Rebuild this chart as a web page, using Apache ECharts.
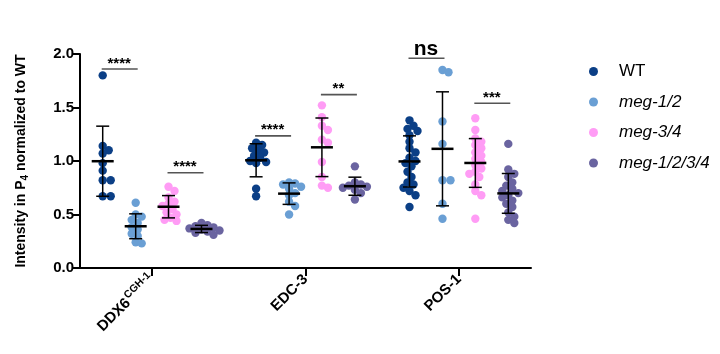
<!DOCTYPE html>
<html><head><meta charset="utf-8">
<script src="https://cdn.jsdelivr.net/npm/echarts@6/dist/echarts.min.js"></script>
<style>html,body{margin:0;padding:0;background:#fff}#c{width:720px;height:354px}</style>
</head><body><div id="c"></div>
<script>
// ---- data ----
const categories = ['DDX6', 'EDC-3', 'POS-1'];
const seriesNames = ['WT', 'meg-1/2', 'meg-3/4', 'meg-1/2/3/4'];
const yTicks = [0, 0.5, 1.0, 1.5, 2.0];

const wt_DDX6   = [1.80, 1.14, 1.10, 1.07, 0.98, 0.91, 0.82, 0.82, 0.67, 0.67];
const wt_EDC3   = [1.17, 1.15, 1.12, 1.10, 1.08, 1.05, 1.03, 1.00, 0.99, 0.98, 0.74, 0.67];
const wt_POS1   = [1.38, 1.33, 1.30, 1.28, 1.24, 1.18, 1.12, 1.08, 1.03, 1.00, 0.98, 0.95, 0.90, 0.85, 0.80, 0.78, 0.75, 0.72, 0.68, 0.57];

const m12_DDX6  = [0.61, 0.50, 0.48, 0.45, 0.42, 0.38, 0.36, 0.32, 0.30, 0.24, 0.23];
const m12_EDC3  = [0.80, 0.79, 0.78, 0.76, 0.74, 0.70, 0.68, 0.62, 0.58, 0.50];
const m12_POS1  = [1.85, 1.83, 1.37, 1.16, 0.82, 0.82, 0.60, 0.46];

const m34_DDX6  = [0.76, 0.72, 0.66, 0.62, 0.60, 0.58, 0.55, 0.52, 0.50, 0.47, 0.45, 0.44];
const m34_EDC3  = [1.52, 1.41, 1.33, 1.29, 1.20, 1.17, 0.99, 0.85, 0.77, 0.75];
const m34_POS1  = [1.40, 1.29, 1.21, 1.18, 1.15, 1.12, 1.08, 1.05, 1.02, 0.99, 0.96, 0.93, 0.90, 0.88, 0.85, 0.78, 0.72, 0.68, 0.46];

const m1234_DDX6 = [0.42, 0.40, 0.39, 0.38, 0.37, 0.36, 0.35, 0.34, 0.33, 0.31];
const m1234_EDC3 = [0.95, 0.80, 0.78, 0.77, 0.76, 0.75, 0.73, 0.70, 0.64];
const m1234_POS1 = [1.16, 0.92, 0.88, 0.85, 0.80, 0.77, 0.74, 0.72, 0.70, 0.68, 0.66, 0.63, 0.60, 0.57, 0.52, 0.48, 0.45, 0.42];

// significance: category index, first series, second series, bar height, label
const sigCat   = [0, 0, 1, 1, 2, 2];
const sigFrom  = [0, 2, 0, 2, 0, 2];
const sigTo    = [1, 3, 1, 3, 1, 3];
const sigY     = [1.86, 0.89, 1.235, 1.62, 1.96, 1.54];
const sigLabel = ['****', '****', '****', '**', 'ns', '***'];

// ---- styling / layout ----
const colors = ['#0b3f86', '#6a9fd4', '#ff9cf5', '#6a64a0'];
const groups = [
  [wt_DDX6, wt_EDC3, wt_POS1],
  [m12_DDX6, m12_EDC3, m12_POS1],
  [m34_DDX6, m34_EDC3, m34_POS1],
  [m1234_DDX6, m1234_EDC3, m1234_POS1]
];
const offsets = [-0.322, -0.107, 0.107, 0.322];
const G = {left: 80, right: 189, top: 54, bottom: 86};
const xMin = -0.47, xMax = 2.47;
const pxX = (720 - G.left - G.right) / (xMax - xMin);
const pxY = (354 - G.top - G.bottom) / 2;
const dotD = 8.4;

function swarm(vals, center) {
  const placed = [];
  const sorted = vals.slice().sort((a, b) => b - a);
  const out = [];
  sorted.forEach(v => {
    const py = v * pxY;
    let chosen = 0;
    for (let k = 0; k < 40; k++) {
      const cand = k === 0 ? 0 : (k % 2 ? 1 : -1) * Math.ceil(k / 2) * 2.0;
      let ok = true;
      for (const p of placed) {
        const dx = cand - p[0], dy = py - p[1];
        if (dx * dx + dy * dy < dotD * dotD * 0.52) { ok = false; break; }
      }
      if (ok) { chosen = cand; break; }
    }
    placed.push([chosen, py]);
    out.push([center + chosen / pxX, v]);
  });
  return out;
}
function mean(a) { return a.reduce((s, v) => s + v, 0) / a.length; }
function sd(a) { const m = mean(a); return Math.sqrt(a.reduce((s, v) => s + (v - m) * (v - m), 0) / (a.length - 1)); }

const series = [];
seriesNames.forEach((name, si) => {
  let pts = [];
  groups[si].forEach((vals, ci) => { pts = pts.concat(swarm(vals, ci + offsets[si])); });
  series.push({
    name: name, type: 'scatter', data: pts, symbolSize: dotD,
    itemStyle: {color: colors[si], opacity: 1}, z: 2
  });
});

// error bars
const ebData = [];
seriesNames.forEach((name, si) => {
  groups[si].forEach((vals, ci) => { ebData.push([ci + offsets[si], mean(vals), sd(vals)]); });
});
series.push({
  type: 'custom', z: 5, silent: true,
  data: ebData,
  renderItem: function (params, api) {
    const x = api.value(0), m = api.value(1), s = api.value(2);
    const top = api.coord([x, m + s]), bot = api.coord([x, m - s]), mid = api.coord([x, m]);
    const st = {stroke: '#000', lineWidth: 1.5};
    return {type: 'group', children: [
      {type: 'line', shape: {x1: top[0], y1: top[1], x2: bot[0], y2: bot[1]}, style: st},
      {type: 'line', shape: {x1: top[0] - 6.5, y1: top[1], x2: top[0] + 6.5, y2: top[1]}, style: st},
      {type: 'line', shape: {x1: bot[0] - 6.5, y1: bot[1], x2: bot[0] + 6.5, y2: bot[1]}, style: st},
      {type: 'line', shape: {x1: mid[0] - 11, y1: mid[1], x2: mid[0] + 11, y2: mid[1]}, style: {stroke: '#000', lineWidth: 2.5}}
    ]};
  }
});

// significance bars
const sigData = sigCat.map((c, i) => [c + offsets[sigFrom[i]], c + offsets[sigTo[i]], sigY[i], i]);
series.push({
  type: 'custom', z: 6, silent: true,
  data: sigData,
  renderItem: function (params, api) {
    const a = api.coord([api.value(0), api.value(2)]);
    const b = api.coord([api.value(1), api.value(2)]);
    const idx = api.value(3);
    const lab = sigLabel[idx];
    const isNs = lab === 'ns';
    return {type: 'group', children: [
      {type: 'line', shape: {x1: a[0] - 1, y1: a[1], x2: b[0] + 2, y2: b[1]}, style: {stroke: '#555', lineWidth: 1.6}},
      {type: 'text', x: (a[0] + b[0]) / 2, y: a[1] + (isNs ? 1 : 2),
        style: {text: lab, fill: '#000', font: isNs ? 'bold 21px "Liberation Sans", Arial, sans-serif' : 'bold 15px "Liberation Sans", Arial, sans-serif',
          align: 'center', verticalAlign: 'bottom'}}
    ]};
  }
});

const chart = echarts.init(document.getElementById('c'), null, {renderer: 'canvas'});
chart.setOption({
  animation: false,
  backgroundColor: '#fff',
  grid: {left: G.left, right: G.right, top: G.top, bottom: G.bottom, containLabel: false},
  legend: {
    orient: 'vertical', left: 584, top: 58, itemGap: 13.5,
    icon: 'circle', itemWidth: 9, itemHeight: 9,
    data: seriesNames,
    formatter: n => n === 'WT' ? '{n|' + n + '}' : '{i|' + n + '}',
    textStyle: {
      padding: [0, 0, 0, 16],
      rich: {
        n: {fontSize: 17, color: '#000', fontFamily: '"Liberation Sans", Arial, sans-serif'},
        i: {fontSize: 17, color: '#000', fontStyle: 'italic', fontFamily: '"Liberation Sans", Arial, sans-serif'}
      }
    }
  },
  xAxis: {
    type: 'value', min: xMin, max: xMax,
    splitLine: {show: false},
    axisLine: {show: true, onZero: false, lineStyle: {color: '#000', width: 2}},
    axisTick: {show: true, customValues: [0, 1, 2], length: 8, lineStyle: {color: '#000', width: 2}},
    axisLabel: {
      show: true, customValues: [0, 1, 2], rotate: 45, margin: 9,
      formatter: v => {
        const n = categories[Math.round(v)];
        return n === 'DDX6' ? '{b|DDX6}{s|CGH-1}' : '{b|' + n + '}';
      },
      rich: {
        b: {fontSize: 15, fontWeight: 'bold', color: '#000', fontFamily: '"Liberation Sans", Arial, sans-serif'},
        s: {fontSize: 10.5, fontWeight: 'bold', color: '#000', fontFamily: '"Liberation Sans", Arial, sans-serif', padding: [0, 0, 9, 1]}
      }
    }
  },
  yAxis: {
    type: 'value', min: 0, max: 2, interval: 0.5,
    name: 'Intensity in P{sub|4} normalized to WT',
    nameLocation: 'middle', nameRotate: 90, nameGap: 50,
    nameTextStyle: {
      fontSize: 14, fontWeight: 'bold', color: '#000', fontFamily: '"Liberation Sans", Arial, sans-serif',
      rich: {sub: {fontSize: 10, fontWeight: 'bold', color: '#000', padding: [8, 0, 0, 0], fontFamily: '"Liberation Sans", Arial, sans-serif'}}
    },
    splitLine: {show: false},
    axisLine: {show: true, onZero: false, lineStyle: {color: '#000', width: 2}},
    axisTick: {show: true, length: 7, lineStyle: {color: '#000', width: 2}},
    axisLabel: {formatter: v => v.toFixed(1), fontSize: 15, fontWeight: 'bold', color: '#000', margin: 6,
      fontFamily: '"Liberation Sans", Arial, sans-serif'}
  },
  series: series
});
</script></body></html>
